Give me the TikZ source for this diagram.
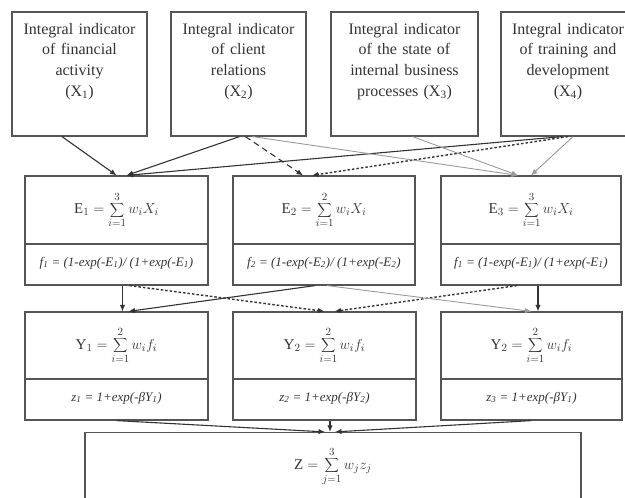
\documentclass[tikz,border=0pt]{standalone}
\usepackage{fontspec}
\setmainfont{Liberation Serif}
\usetikzlibrary{arrows.meta}

\definecolor{ink}{HTML}{333333}
\definecolor{frame}{HTML}{555555}
\definecolor{lightink}{HTML}{9A9A9A}

\tikzset{
indicator/.style={
draw=frame,
line width=1.2pt,
align=center,
text=ink,
inner sep=4pt,
text height=18pt,
text depth=98pt,
font=\fontsize{16}{20.7}\selectfont
},
sumbox/.style={
draw=frame,
line width=1.2pt,
text=ink,
inner sep=0pt,
minimum height=68pt,
font=\fontsize{15}{18}\selectfont
},
rulebox/.style={
draw=frame,
line width=1.2pt,
text=ink,
inner sep=0pt,
minimum height=41pt,
text depth=6pt,
font=\fontsize{13}{15}\selectfont\itshape
},
link/.style={draw=ink, line width=1.1pt, -{Latex[length=6.5pt,width=5.5pt]}},
dashlink/.style={link, dash pattern=on 6pt off 4pt},
dotlink/.style={link, line width=1.4pt, dash pattern=on 2.5pt off 2pt},
greylink/.style={link, draw=lightink, line width=0.9pt}
}

\begin{document}
\begin{tikzpicture}[x=1pt, y=-1pt]

\path[use as bounding box, clip] (0,0) rectangle (625,498);

\node[indicator, text width=127pt] (X1) at (79.5,74)
{Integral indicator\\of financial\\activity\\(X\textsubscript{1})};

\node[indicator, text width=127pt] (X2) at (238.5,74)
{Integral indicator\\of client\\relations\\(X\textsubscript{2})};

\node[indicator, text width=139pt] (X3) at (404.5,74)
{Integral indicator\\of the state of\\internal business\\processes (X\textsubscript{3})};

\node[indicator, text width=126pt] (X4) at (568,74)
{Integral indicator\\of training and\\development\\(X\textsubscript{4})};

\node[sumbox, minimum width=183pt] (E1) at (116.5,210)
{$\displaystyle \mathrm{E}_1 = \sum_{i=1}^{3} w_i X_i$};
\node[sumbox, minimum width=182pt] (E2) at (324,210)
{$\displaystyle \mathrm{E}_2 = \sum_{i=1}^{2} w_i X_i$};
\node[sumbox, minimum width=180pt] (E3) at (531,210)
{$\displaystyle \mathrm{E}_3 = \sum_{i=1}^{3} w_i X_i$};

\node[rulebox, minimum width=183pt] (F1) at (116.5,264.5)
{f\textsubscript{1} = (1-exp(-E\textsubscript{1})/ (1+exp(-E\textsubscript{1})};
\node[rulebox, minimum width=182pt] (F2) at (324,264.5)
{f\textsubscript{2} = (1-exp(-E\textsubscript{2})/ (1+exp(-E\textsubscript{2})};
\node[rulebox, minimum width=180pt] (F3) at (531,264.5)
{f\textsubscript{1} = (1-exp(-E\textsubscript{1})/ (1+exp(-E\textsubscript{1})};

\node[sumbox, minimum width=183pt, minimum height=67pt] (Y1) at (116.5,345.5)
{$\displaystyle \mathrm{Y}_1 = \sum_{i=1}^{2} w_i f_i$};
\node[sumbox, minimum width=183pt, minimum height=67pt] (Y2) at (324.5,345.5)
{$\displaystyle \mathrm{Y}_2 = \sum_{i=1}^{2} w_i f_i$};
\node[sumbox, minimum width=181pt, minimum height=67pt] (Y3) at (531.5,345.5)
{$\displaystyle \mathrm{Y}_2 = \sum_{i=1}^{2} w_i f_i$};

\node[rulebox, minimum width=183pt] (z1) at (116.5,399.5)
{z\textsubscript{1} = 1+exp(-βY\textsubscript{1})};
\node[rulebox, minimum width=183pt] (z2) at (324.5,399.5)
{z\textsubscript{2} = 1+exp(-βY\textsubscript{2})};
\node[rulebox, minimum width=181pt] (z3) at (531.5,399.5)
{z\textsubscript{3} = 1+exp(-βY\textsubscript{1})};

\node[sumbox, minimum width=496pt] (Z) at (333,466.5)
{$\displaystyle \mathrm{Z} = \sum_{j=1}^{3} w_j z_j$};

\draw[link] ([xshift=-17.5pt]X1.south) -- (E1.north);
\draw[link] ([xshift=1pt]X2.south) -- ([xshift=10pt]E1.north);
\draw[link] ([xshift=-6pt]X4.south) -- ([xshift=10pt]E1.north);
\draw[dashlink] ([xshift=7pt]X2.south) -- ([xshift=-21pt]E2.north);
\draw[dotlink] (X4.south) -- ([xshift=-12pt]E2.north);
\draw[greylink] ([xshift=14pt]X2.south) -- ([xshift=-13pt]E3.north);
\draw[greylink] ([xshift=8pt]X3.south) -- ([xshift=-13pt]E3.north);
\draw[greylink] ([xshift=5pt]X4.south) -- (E3.north);

\draw[link] ([xshift=6pt]F1.south) -- ([xshift=6pt]Y1.north);
\draw[link] ([xshift=-9pt]F2.south) -- ([xshift=12pt]Y1.north);
\draw[dotlink] ([xshift=13pt]F1.south) -- (Y2.north);
\draw[dotlink] ([xshift=-14pt]F3.south) -- ([xshift=10pt]Y2.north);
\draw[greylink] ([xshift=3pt]F2.south) -- (Y3.north);
\draw[link] ([xshift=7pt]F3.south) -- ([xshift=6.5pt]Y3.north);

\draw[link] (z1.south) -- ([xshift=-8pt]Z.north);
\draw[link] ([xshift=5.5pt]z2.south) -- ([xshift=-3pt]Z.north);
\draw[link] (z3.south) -- ([xshift=2pt]Z.north);

\end{tikzpicture}
\end{document}
